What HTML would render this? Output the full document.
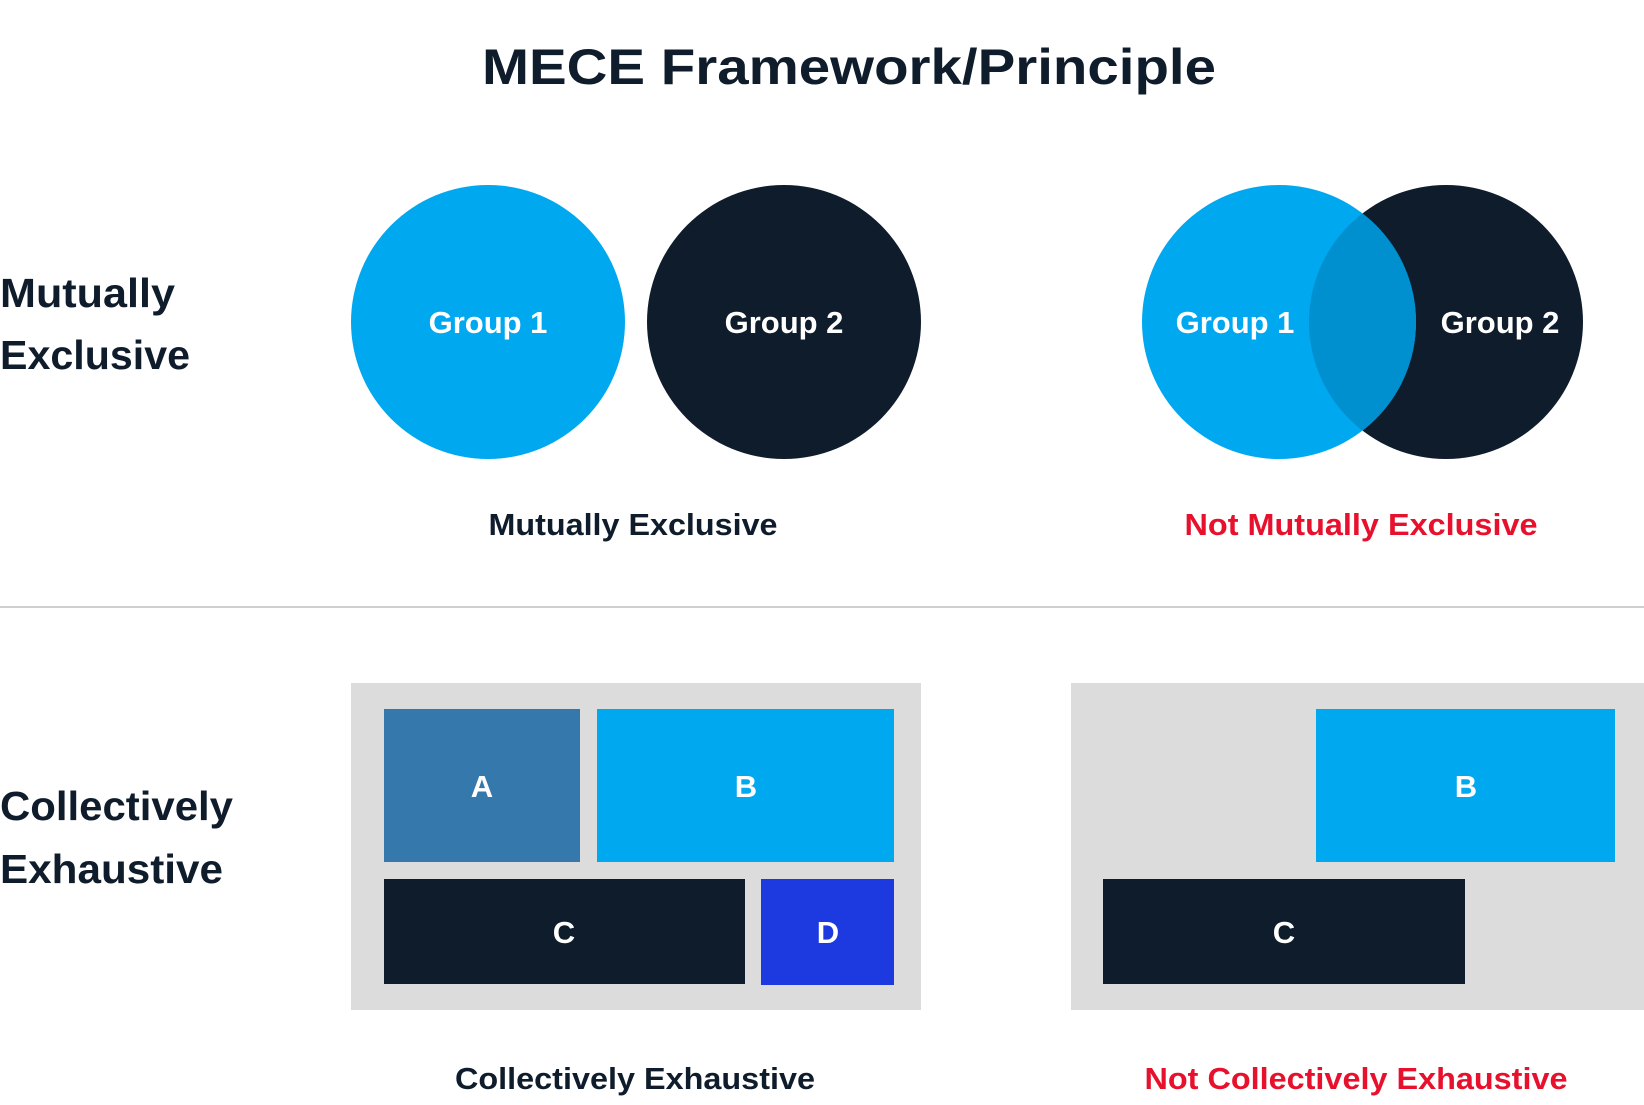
<!DOCTYPE html>
<html><head><meta charset="utf-8"><style>
html,body{margin:0;padding:0;background:#fff;}
svg{display:block;}
text{font-family:"Liberation Sans",sans-serif;font-weight:bold;}
</style></head><body>
<svg width="1644" height="1105" viewBox="0 0 1644 1105" xmlns="http://www.w3.org/2000/svg">
<text x="849" y="84" font-size="50" fill="#0f1c2b" text-anchor="middle" textLength="734" lengthAdjust="spacingAndGlyphs">MECE Framework/Principle</text>
<text x="0" y="307" font-size="41" fill="#0f1c2b" textLength="175" lengthAdjust="spacingAndGlyphs">Mutually</text>
<text x="0" y="369" font-size="41" fill="#0f1c2b" textLength="190" lengthAdjust="spacingAndGlyphs">Exclusive</text>
<circle cx="488" cy="322" r="137" fill="#00a8f0"/>
<circle cx="784" cy="322" r="137" fill="#0f1c2b"/>
<text x="488" y="333" font-size="31" fill="#fff" text-anchor="middle">Group 1</text>
<text x="784" y="333" font-size="31" fill="#fff" text-anchor="middle">Group 2</text>
<defs><clipPath id="c1"><circle cx="1279" cy="322" r="137"/></clipPath></defs>
<circle cx="1446" cy="322" r="137" fill="#0f1c2b"/>
<circle cx="1279" cy="322" r="137" fill="#00a8f0"/>
<circle cx="1446" cy="322" r="137" fill="#008fcf" clip-path="url(#c1)"/>
<text x="1235" y="333" font-size="31" fill="#fff" text-anchor="middle">Group 1</text>
<text x="1500" y="333" font-size="31" fill="#fff" text-anchor="middle">Group 2</text>
<text x="633" y="535" font-size="31" fill="#0f1c2b" text-anchor="middle" textLength="289" lengthAdjust="spacingAndGlyphs">Mutually Exclusive</text>
<text x="1361" y="535" font-size="31" fill="#e8112d" text-anchor="middle" textLength="353" lengthAdjust="spacingAndGlyphs">Not Mutually Exclusive</text>
<rect x="0" y="606" width="1644" height="2" fill="#cfcfcf"/>
<text x="0" y="820" font-size="41" fill="#0f1c2b" textLength="233" lengthAdjust="spacingAndGlyphs">Collectively</text>
<text x="0" y="883" font-size="41" fill="#0f1c2b" textLength="223" lengthAdjust="spacingAndGlyphs">Exhaustive</text>
<rect x="351" y="683" width="570" height="327" fill="#dcdcdc"/>
<rect x="384" y="709" width="196" height="153" fill="#3578ab"/>
<rect x="597" y="709" width="297" height="153" fill="#00a8f0"/>
<rect x="384" y="879" width="361" height="105" fill="#0f1c2b"/>
<rect x="761" y="879" width="133" height="106" fill="#1c3ae0"/>
<text x="482" y="797" font-size="31" fill="#fff" text-anchor="middle">A</text>
<text x="746" y="797" font-size="31" fill="#fff" text-anchor="middle">B</text>
<text x="564" y="943" font-size="31" fill="#fff" text-anchor="middle">C</text>
<text x="828" y="943" font-size="31" fill="#fff" text-anchor="middle">D</text>
<rect x="1071" y="683" width="573" height="327" fill="#dcdcdc"/>
<rect x="1316" y="709" width="299" height="153" fill="#00a8f0"/>
<rect x="1103" y="879" width="362" height="105" fill="#0f1c2b"/>
<text x="1466" y="797" font-size="31" fill="#fff" text-anchor="middle">B</text>
<text x="1284" y="943" font-size="31" fill="#fff" text-anchor="middle">C</text>
<text x="635" y="1089" font-size="31" fill="#0f1c2b" text-anchor="middle" textLength="360" lengthAdjust="spacingAndGlyphs">Collectively Exhaustive</text>
<text x="1356" y="1089" font-size="31" fill="#e8112d" text-anchor="middle" textLength="423" lengthAdjust="spacingAndGlyphs">Not Collectively Exhaustive</text>
</svg>
</body></html>
